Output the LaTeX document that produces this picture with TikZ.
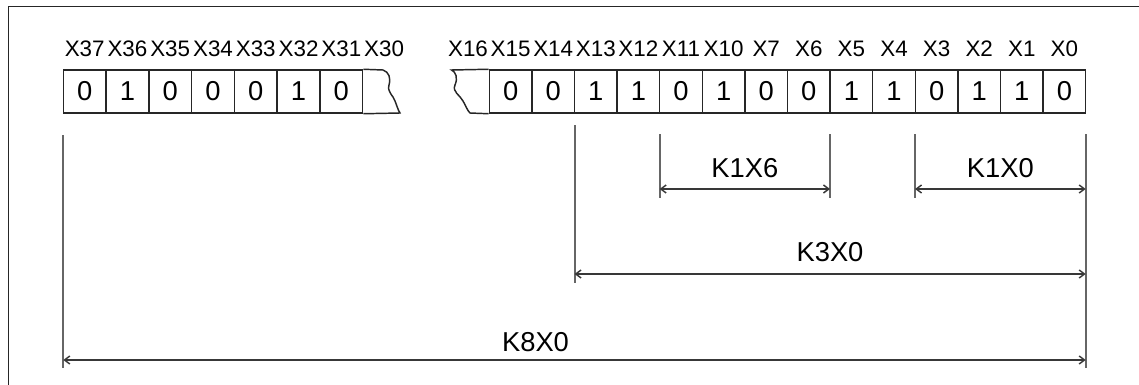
\documentclass[tikz,border=0pt]{standalone}
\usepackage{fontspec}
\setmainfont{Liberation Sans}
\usetikzlibrary{arrows.meta}
\begin{document}
\begin{tikzpicture}[x=0.75pt,y=-0.75pt,
  cellline/.style={draw=black!85,line width=1.1pt},
  cell/.style={cellline,minimum width=32.02pt,minimum height=32.25pt,inner sep=0pt,font=\fontsize{20.5}{24}\selectfont},
  bitlabel/.style={inner sep=0pt,font=\fontsize{16.8}{19}\selectfont},
  dimline/.style={draw=black!60,line width=1.5pt},
  dimarrow/.style={draw=black!78,line width=1.1pt,{Straight Barb[length=4pt,width=6pt]}-{Straight Barb[length=4pt,width=6pt]}},
  dimtext/.style={inner sep=0pt,font=\fontsize{20.5}{24}\selectfont},
  frameline/.style={draw=black!85,line width=1.1pt}]
\useasboundingbox (0,0) rectangle (1139,385);
% frame
\coordinate (fbl) at (8.3,385);
\coordinate (ftl) at (8.3,6.7);
\coordinate (ftr) at (1139,6.7);
\draw[frameline] (fbl) -- (ftl) -- (ftr);
% left group
\foreach \b [count=\i from 0] in {0,1,0,0,0,1,0} {
  \node[cell] (L\i) at ({63.3+42.77*(\i+0.5)},91.5) {\b};
}
\foreach \t [count=\i from 0] in {X37,X36,X35,X34,X33,X32,X31,X30} {
  \node[bitlabel] (LL\i) at ({63.3+42.77*(\i+0.5)},48.5) {\t};
}
\draw[cellline] (L6.north east) -- (383,70) .. controls (389,72) and (391,78) .. (389,85)
  .. controls (387,92) and (393,95) .. (395,101) .. controls (397,106) and (398,110) .. (400,113)
  -- (L6.south east);
% right group
\foreach \b [count=\i from 0] in {0,0,1,1,0,1,0,0,1,1,0,1,1,0} {
  \node[cell] (R\i) at ({489.3+42.6*(\i+0.5)},91.5) {\b};
}
\node[bitlabel] (RL16) at (468,48.5) {X16};
\foreach \t [count=\i from 0] in {X15,X14,X13,X12,X11,X10,X7,X6,X5,X4,X3,X2,X1,X0} {
  \node[bitlabel] (RL\i) at ({489.3+42.6*(\i+0.5)},48.5) {\t};
}
\draw[cellline] (R0.north west) -- (451.5,70) .. controls (456,72) and (458,78) .. (455,85)
  .. controls (452,92) and (460,95) .. (463,101) .. controls (466,106) and (467,110) .. (470,113)
  -- (R0.south west);
% dimension lines
\coordinate (k8lt) at (63.3,135);  \coordinate (k8lb) at (63.3,368);
\coordinate (k8rt) at (1085.7,134); \coordinate (k8rb) at (1085.7,368);
\coordinate (k3lt) at (574.5,125); \coordinate (k3lb) at (574.5,283);
\coordinate (k6lt) at (659.6,134); \coordinate (k6lb) at (659.6,198);
\coordinate (k6rt) at (830,134);   \coordinate (k6rb) at (830,198);
\coordinate (k0lt) at (915,134);   \coordinate (k0lb) at (915,198);
\draw[dimline] (k8lt) -- (k8lb);
\draw[dimline] (k8rt) -- (k8rb);
\draw[dimline] (k3lt) -- (k3lb);
\draw[dimline] (k6lt) -- (k6lb);
\draw[dimline] (k6rt) -- (k6rb);
\draw[dimline] (k0lt) -- (k0lb);
\coordinate (a6l) at (659.6,189); \coordinate (a6r) at (830,189);
\coordinate (a0l) at (915,189);   \coordinate (a0r) at (1085.7,189);
\coordinate (a3l) at (574.5,274); \coordinate (a3r) at (1085.7,274);
\coordinate (a8l) at (63.3,360);  \coordinate (a8r) at (1085.7,360);
\draw[dimarrow] (a6l) -- (a6r);
\draw[dimarrow] (a0l) -- (a0r);
\draw[dimarrow] (a3l) -- (a3r);
\draw[dimarrow] (a8l) -- (a8r);
\node[dimtext] (t6) at (744.8,168) {K1X6};
\node[dimtext] (t0) at (1000.3,168) {K1X0};
\node[dimtext] (t3) at (830,252.5) {K3X0};
\node[dimtext] (t8) at (535.5,342) {K8X0};
\end{tikzpicture}
\end{document}
